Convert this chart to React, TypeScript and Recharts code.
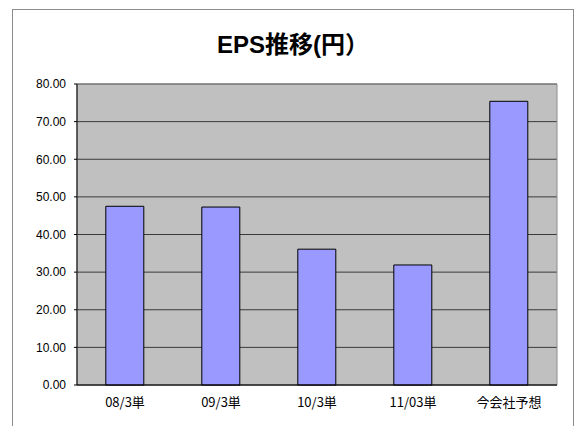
import React from 'react';
import { BarChart, Bar, XAxis, YAxis, CartesianGrid, ReferenceArea } from 'recharts';

const categories = ['08/3単', '09/3単', '10/3単', '11/03単', '今会社予想'];
const epsValues = [47.5, 47.3, 36.1, 31.9, 75.4];
const yTicks = [0, 10, 20, 30, 40, 50, 60, 70, 80];
const title = 'EPS推移(円）';

const data = categories.map((c, i) => ({ name: c, eps: epsValues[i] }));

export default function App() {
  return (
    <div style={{ position: 'absolute', left: 0, top: 0, width: 575, height: 426, background: '#fff', overflow: 'hidden' }}>
      <div
        style={{
          position: 'absolute',
          left: 12,
          top: 9,
          width: 562,
          height: 440,
          boxSizing: 'border-box',
          border: '1px solid #8c8c8c',
        }}
      />
      <div
        style={{
          position: 'absolute',
          left: 12,
          width: 562,
          top: 29,
          textAlign: 'center',
          fontFamily: '"Liberation Sans", "Noto Sans CJK JP", sans-serif',
          fontWeight: 'bold',
          fontSize: 24,
          lineHeight: '32px',
          color: '#000',
        }}
      >
        {title}
      </div>
      <div style={{ position: 'absolute', left: 0, top: 0 }}>
        <BarChart
          width={575}
          height={426}
          data={data}
          margin={{ top: 84, right: 18, left: 12, bottom: 11 }}
          barCategoryGap="30%"
        >
          <CartesianGrid vertical={false} fill="#c0c0c0" stroke="#3a3a3a" strokeWidth={1} />
          <ReferenceArea y1={0} y2={80} fill="none" stroke="#8c8c8c" strokeWidth={1} />
          <XAxis
            dataKey="name"
            stroke="#000"
            tickLine={false}
            tickMargin={7}
            height={30}
            tick={{ fill: '#000', fontSize: 13, fontFamily: '"Noto Sans CJK JP", sans-serif' }}
          />
          <YAxis
            domain={[0, 80]}
            ticks={yTicks}
            width={65}
            stroke="#000"
            tickSize={3}
            tickMargin={8}
            tickFormatter={(v: number) => v.toFixed(2)}
            tick={{ fill: '#000', fontSize: 12, fontFamily: '"Liberation Sans", Arial, sans-serif' }}
          />
          <Bar dataKey="eps" fill="#9999ff" stroke="#000" strokeWidth={1} isAnimationActive={false} />
        </BarChart>
      </div>
    </div>
  );
}
